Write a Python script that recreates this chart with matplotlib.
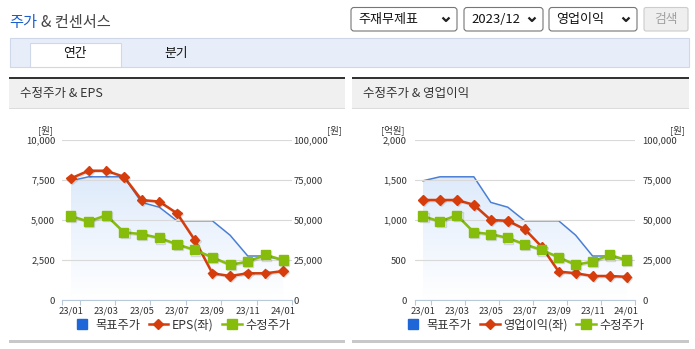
import numpy as np
import matplotlib
matplotlib.use('Agg')
import matplotlib.pyplot as plt
import matplotlib.patheffects as pe
from matplotlib.patches import Rectangle, FancyBboxPatch
from matplotlib.lines import Line2D
from matplotlib.ticker import FuncFormatter

plt.rcParams['font.family'] = ['Noto Sans CJK KR', 'DejaVu Sans']

W, H = 695, 349

# 월별 데이터 (23/01 ~ 24/01)
months = ['23/01', '23/02', '23/03', '23/04', '23/05', '23/06', '23/07',
          '23/08', '23/09', '23/10', '23/11', '23/12', '24/01']
target_price = [74500, 77000, 77000, 77000, 61000, 58000, 49500,
                49500, 49500, 40500, 27500, 27500, 25000]        # 목표주가 (원)
adj_price = [52500, 49000, 53000, 42300, 41200, 38800, 34800,
             31300, 26700, 22000, 24000, 28200, 25000]           # 수정주가 (원)
eps = [7600, 8080, 8080, 7700, 6250, 6150, 5420,
       3750, 1670, 1500, 1670, 1670, 1810]                       # EPS (원)
op_income = [1250, 1250, 1250, 1190, 1000, 990, 885,
             665, 355, 335, 300, 300, 290]                       # 영업이익 (억원)

BLUE = '#4a7fd6'
BLUE_KEY = '#1f66d9'
RED = '#d63d0c'
GREEN = '#86bd0c'
TXT = '#333333'
AXIS = '#b9c9dc'

fig = plt.figure(figsize=(W / 100, H / 100), dpi=100)

# 픽셀 좌표로 그리는 배경용 축
bg = fig.add_axes([0, 0, 1, 1], zorder=0)
bg.set_xlim(0, W)
bg.set_ylim(H, 0)
bg.axis('off')

# 상단 제목
bg.text(9, 22, '주가', color='#1d5fc9', fontsize=11, va='center')
bg.text(41, 22, '& 컨센서스', color='#444444', fontsize=11, va='center')

# 선택 박스
def select_box(x0, x1, label):
    bg.add_patch(FancyBboxPatch((x0, 7.5), x1 - x0, 23.5,
                                boxstyle='round,pad=0,rounding_size=3',
                                fc='white', ec='#767676', lw=0.8))
    bg.text(x0 + 7, 19.5, label, fontsize=9.4, va='center', color='#111111')
    cx = x1 - 11
    bg.plot([cx - 3.5, cx, cx + 3.5], [17.5, 21, 17.5], color='#222222',
            lw=1.6, solid_capstyle='butt')

select_box(351, 457, '주재무제표')
select_box(464, 543, '2023/12')
select_box(549, 637, '영업이익')
bg.add_patch(FancyBboxPatch((644, 7.5), 44, 23.5,
                            boxstyle='round,pad=0,rounding_size=2',
                            fc='#efefef', ec='#cccccc', lw=0.8))
bg.text(666, 19.5, '검색', fontsize=9.2, ha='center', va='center',
        color='#a0a0a0')

# 탭
bg.add_patch(Rectangle((9.5, 37.5), 679, 29, fc='#e8eef9', ec='#cfd8e8',
                       lw=0.8))
bg.add_patch(Rectangle((29.5, 42.5), 91, 24.5, fc='white', ec='#cfd8e8',
                       lw=0.8))
bg.text(75, 53.5, '연간', fontsize=9.2, ha='center', va='center',
        color='#111111')
bg.text(176, 53.5, '분기', fontsize=9.2, ha='center', va='center',
        color='#111111')

# 차트 패널 틀
for px0, px1, title in [(9, 345, '수정주가 & EPS'), (352, 689, '수정주가 & 영업이익')]:
    bg.add_patch(Rectangle((px0, 77), px1 - px0, 1.8, fc='#333333', lw=0))
    bg.add_patch(Rectangle((px0, 78.8), px1 - px0, 29.5, fc='#f0f0f0', lw=0))
    bg.add_patch(Rectangle((px0, 108.3), px1 - px0, 1, fc='#dcdcdc', lw=0))
    bg.add_patch(Rectangle((px0, 340), px1 - px0, 2.5, fc='#c8c8c8', lw=0))
    bg.text(px0 + 11, 94, title, fontsize=9, va='center', color=TXT)

fmt = FuncFormatter(lambda v, _: f'{int(v):,}')
x = np.arange(len(months))


def draw_chart(x0, x1, left_vals, left_max, left_name, left_unit,
               pad_l, pad_r, unit_l_x, unit_r_x, legend_cx):
    rect = [x0 / W, 1 - 300 / H, (x1 - x0) / W, 160 / H]
    ax = fig.add_axes(rect)
    ax_r = ax.twinx()
    ax_p = ax.twinx()
    ax_r.set_zorder(1)
    ax.set_zorder(2)
    ax_p.set_zorder(3)
    for a in (ax, ax_r, ax_p):
        a.patch.set_visible(False)
        for s in a.spines.values():
            s.set_visible(False)

    # 목표주가 영역 (그라데이션)
    poly = ax_r.fill_between(x, target_price, 0, facecolor='none',
                             edgecolor='none')
    g = np.linspace(1, 0, 256).reshape(-1, 1, 1)
    top = np.array([0.87, 0.92, 0.985])
    bot = np.array([1.0, 1.0, 1.0])
    img = g * top + (1 - g) * bot
    im = ax_r.imshow(img, extent=[x[0], x[-1], 0, max(target_price)],
                     aspect='auto', origin='upper', zorder=1)
    im.set_clip_path(poly.get_paths()[0], transform=ax_r.transData)
    ax_r.plot(x, target_price, color=BLUE, lw=1.1, zorder=3)

    shadow = [pe.SimpleLineShadow(offset=(0.8, -0.8), shadow_color='black',
                                  alpha=0.12), pe.Normal()]
    ax.plot(x, left_vals, color=RED, lw=1.8, marker='D', ms=4.8,
            mfc=RED, mec=RED, path_effects=shadow, zorder=3)
    ax_p.plot(x, adj_price, color=GREEN, lw=1.8, marker='s', ms=6.5,
              mfc=GREEN, mec=GREEN, path_effects=shadow, zorder=3)

    ax.set_xlim(-0.5, len(months) - 0.5)
    ax.set_ylim(0, left_max)
    ax_r.set_ylim(0, 100000)
    ax_p.set_ylim(0, 100000)

    ax.set_yticks(np.linspace(0, left_max, 5))
    ax.yaxis.set_major_formatter(fmt)
    ax.grid(axis='y', color='#d9d9d9', lw=0.8)
    ax.tick_params(axis='y', length=0, pad=pad_l, labelsize=6.8,
                   labelcolor=TXT)

    ax_r.set_yticks(np.arange(0, 100001, 25000))
    ax_r.yaxis.set_major_formatter(fmt)
    ax_r.tick_params(axis='y', length=0, pad=pad_r, labelsize=6.8,
                     labelcolor=TXT)
    ax_p.set_yticks([])

    ax.spines['bottom'].set_visible(True)
    ax.spines['bottom'].set_color(AXIS)
    ax.set_xticks(x[::2])
    ax.set_xticklabels(months[::2])
    ax.set_xticks([-0.5, 0.5, 2.5, 4.5, 6.5, 8.5, 10.5, 12.5], minor=True)
    ax.tick_params(axis='x', which='major', length=0, pad=4.5,
                   labelsize=6.8, labelcolor=TXT)
    ax.tick_params(axis='x', which='minor', length=3.6, color=AXIS,
                   width=0.8)

    bg.text(unit_l_x, 130, left_unit, ha='right', va='center',
            fontsize=6.8, color=TXT)
    bg.text(unit_r_x, 130, '[원]', ha='right', va='center',
            fontsize=6.8, color=TXT)

    handles = [
        Line2D([], [], ls='none', marker='s', ms=7.5, color=BLUE_KEY),
        Line2D([], [], color=RED, lw=1.8, marker='D', ms=4.8),
        Line2D([], [], color=GREEN, lw=1.8, marker='s', ms=6.5),
    ]
    ax.legend(handles, ['목표주가', left_name, '수정주가'], loc='center',
              bbox_to_anchor=(legend_cx / W, 1 - 325 / H),
              bbox_transform=fig.transFigure, ncol=3, frameon=False,
              fontsize=8.8, handlelength=1.6, handletextpad=0.3,
              columnspacing=0.7, labelcolor=TXT, borderpad=0)


draw_chart(62, 292, eps, 10000, 'EPS(좌)', '[원]',
           pad_l=5, pad_r=1, unit_l_x=53, unit_r_x=342, legend_cx=181)
draw_chart(414.5, 635, op_income, 2000, '영업이익(좌)', '[억원]',
           pad_l=5.5, pad_r=5.5, unit_l_x=405, unit_r_x=685, legend_cx=524)

fig.savefig('out.png', dpi=100, facecolor='white')
